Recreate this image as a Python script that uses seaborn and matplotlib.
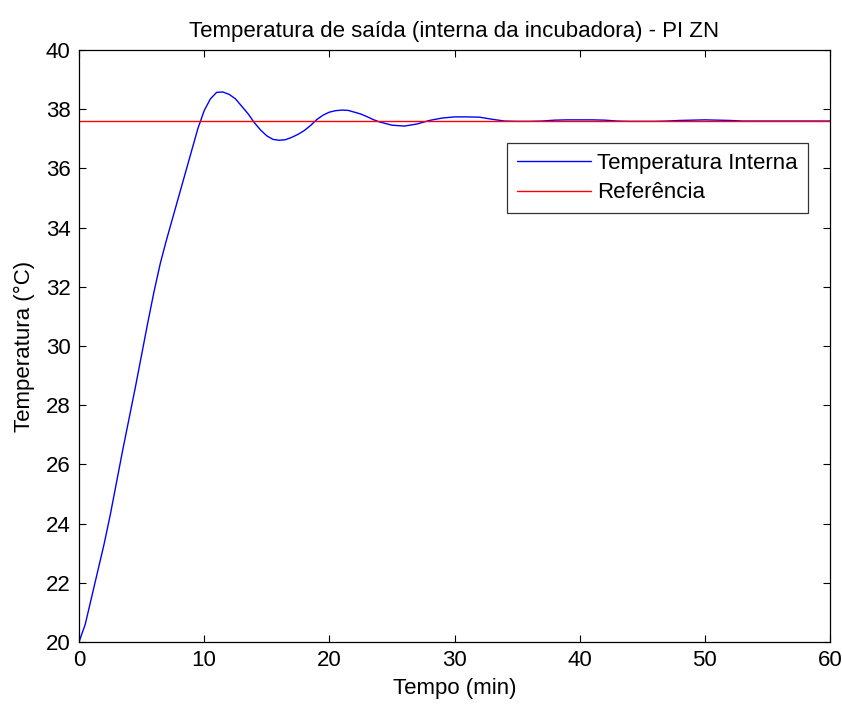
import numpy as np
import pandas as pd
import matplotlib
matplotlib.use("Agg")
import matplotlib.pyplot as plt
import seaborn as sns

# Data
tempo = [0, 0.5, 1, 1.5, 2, 2.5, 3, 3.5, 4, 4.5, 5, 5.5, 6, 6.5, 7, 7.5, 8, 8.5, 9, 9.5,
         10, 10.5, 11, 11.5, 12, 12.5, 13, 13.5, 14, 14.5, 15, 15.5, 16, 16.5, 17, 17.5,
         18, 18.5, 19, 19.5, 20, 20.5, 21, 21.5, 22, 22.5, 23, 23.5, 24, 25, 26, 27, 28,
         29, 30, 31, 32, 33, 34, 35, 36, 37, 38, 39, 40, 41, 42, 43, 44, 45, 46, 47, 48,
         49, 50, 51, 52, 53, 54, 55, 56, 57, 58, 59, 60]
temperatura = [20.0, 20.6, 21.5, 22.4, 23.3, 24.3, 25.4, 26.5, 27.55, 28.6, 29.7, 30.8,
               31.85, 32.8, 33.6, 34.35, 35.1, 35.85, 36.6, 37.35,
               37.95, 38.35, 38.57, 38.58, 38.5, 38.35, 38.1, 37.85, 37.55, 37.3, 37.1,
               36.98, 36.95, 36.97, 37.05, 37.15,
               37.28, 37.45, 37.65, 37.8, 37.9, 37.95, 37.97, 37.96, 37.9, 37.84, 37.75,
               37.65, 37.57, 37.46, 37.43, 37.5, 37.62,
               37.7, 37.74, 37.74, 37.73, 37.66, 37.6, 37.59, 37.59, 37.6, 37.63, 37.64,
               37.64, 37.64, 37.63, 37.6, 37.59, 37.59, 37.59, 37.6, 37.62,
               37.63, 37.64, 37.63, 37.62, 37.6, 37.6, 37.6, 37.6, 37.6, 37.6, 37.6, 37.6]
referencia = 37.6

titulo = "Temperatura de saída (interna da incubadora) - PI ZN"
xlabel = "Tempo (min)"
ylabel = "Temperatura (°C)"
legenda = ["Temperatura Interna", "Referência"]

sns.set_style("ticks")
plt.rcParams['font.family'] = ['Liberation Sans', 'DejaVu Sans']
plt.rcParams['font.size'] = 16
plt.rcParams['text.color'] = 'black'
plt.rcParams['axes.labelcolor'] = 'black'

df = pd.DataFrame({"t": tempo, "T": temperatura})
df_ref = pd.DataFrame({"t": [0, 60], "R": [referencia, referencia]})

fig = plt.figure(figsize=(8.42, 7.04), dpi=100)
ax = fig.add_axes([79/842, 1-642/704, (830-79)/842, (642-50)/704])

sns.lineplot(data=df, x="t", y="T", ax=ax, color="#0000ff", lw=1.0, label=legenda[0])
sns.lineplot(data=df_ref, x="t", y="R", ax=ax, color="#ff0000", lw=1.0, label=legenda[1])

ax.set_xlim(0, 60)
ax.set_ylim(20, 40)
ax.set_xticks(range(0, 61, 10))
ax.set_yticks(range(20, 41, 2))
ax.tick_params(direction="in", length=5, width=0.8, top=True, right=True,
               labelsize=16, colors="black", pad=6)
for s in ax.spines.values():
    s.set_visible(True)
    s.set_color("black")
    s.set_linewidth(0.9)

ax.set_title(titulo, fontsize=16, pad=9, color="black")
ax.set_xlabel(xlabel, fontsize=16, labelpad=5)
ax.set_ylabel(ylabel, fontsize=16, labelpad=8)

leg = ax.legend(loc="upper right", bbox_to_anchor=((808-79)/751, (642-143)/592),
                frameon=True, fancybox=False, edgecolor="black", fontsize=16,
                handlelength=3.3, borderpad=0.45, labelspacing=0.38, handletextpad=0.3,
                borderaxespad=0)
leg.get_frame().set_linewidth(0.9)
for t in leg.get_texts():
    t.set_color("black")

fig.savefig("out.png", dpi=100)
